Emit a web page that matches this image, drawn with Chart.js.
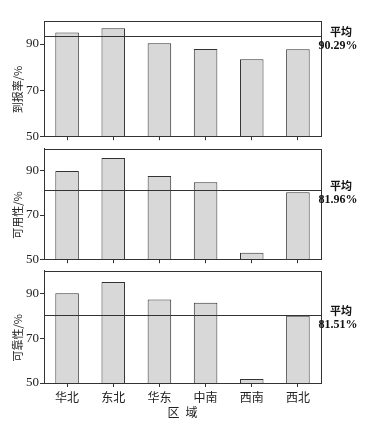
<!DOCTYPE html>
<html>
<head>
<meta charset="utf-8">
<script src="https://cdn.jsdelivr.net/npm/chart.js@4.4.0/dist/chart.umd.min.js"></script>
<style>
    body { margin: 0; background: #fff; }
    #wrap { position: relative; width: 373px; height: 427px; }
    canvas { position: absolute; left: 0; }
</style>
</head>
<body>
<div id="wrap">
    <canvas id="c1"></canvas>
    <canvas id="c2"></canvas>
    <canvas id="c3"></canvas>
</div>
<script>
const regions = ['华北', '东北', '华东', '中南', '西南', '西北'];
const reportRate = [95.0, 96.9, 90.3, 87.9, 83.4, 87.7];
const availability = [90.0, 95.8, 87.7, 84.9, 52.9, 80.3];
const reliability = [90.0, 95.0, 87.2, 85.8, 51.8, 80.0];
const yTicks = [50, 70, 90];
// mean line as drawn in the figure, and the printed label
const meanLines = [93.5, 81.2, 80.3];
const meanLabels = ['90.29%', '81.96%', '81.51%'];
const yTitles = ['到报率/%', '可用性/%', '可靠性/%'];

const serif = '"Liberation Serif", "DejaVu Serif", serif';
const cjk = '"Noto Sans CJK SC", sans-serif';

// canvas placement for each panel
const panels = [
    { id: 'c1', top: 0, height: 145, padTop: 21, xHeight: 8, data: reportRate },
    { id: 'c2', top: 140, height: 128, padTop: 4, xHeight: 8, data: availability },
    { id: 'c3', top: 262, height: 165, padTop: 7, xHeight: 44, data: reliability }
];

const panelDeco = {
    id: 'panelDeco',
    afterDatasetsDraw(chart, args, opts) {
        const { ctx, chartArea: a } = chart;
        const y = chart.scales.y;
        ctx.save();
        ctx.strokeStyle = '#333';
        ctx.lineWidth = 1;
        ctx.strokeRect(Math.round(a.left) + 0.5, Math.round(a.top) + 0.5,
            Math.round(a.right - a.left), Math.round(a.bottom - a.top));
        const my = Math.round(y.getPixelForValue(opts.mean)) + 0.5;
        ctx.beginPath();
        ctx.moveTo(a.left, my);
        ctx.lineTo(a.right, my);
        ctx.stroke();

        ctx.fillStyle = '#111';
        ctx.textAlign = 'center';
        ctx.textBaseline = 'middle';
        ctx.font = 'bold 11px ' + cjk;
        ctx.fillText('平均', 341, my - 5);
        ctx.font = 'bold 12px ' + serif;
        ctx.fillText(opts.label, 338, my + 9);

        // rotated axis title
        ctx.save();
        ctx.translate(18, (a.top + a.bottom) / 2 + 11);
        ctx.rotate(-Math.PI / 2);
        ctx.font = '11px ' + cjk;
        ctx.fillStyle = '#222';
        ctx.fillText(opts.title, 0, 0);
        ctx.restore();
        ctx.restore();
    }
};

panels.forEach((p, i) => {
    const el = document.getElementById(p.id);
    el.width = 373;
    el.height = p.height;
    el.style.top = p.top + 'px';
    const last = i === panels.length - 1;

    new Chart(el.getContext('2d'), {
        type: 'bar',
        data: {
            labels: regions,
            datasets: [{
                data: p.data,
                backgroundColor: '#d8d8d8',
                borderColor: '#333',
                borderWidth: 1,
                categoryPercentage: 0.51,
                barPercentage: 1
            }]
        },
        options: {
            responsive: false,
            animation: false,
            devicePixelRatio: 1,
            layout: { padding: { top: p.padTop, right: 52, left: 0, bottom: 0 } },
            plugins: {
                legend: { display: false },
                tooltip: { enabled: false },
                panelDeco: { mean: meanLines[i], label: meanLabels[i], title: yTitles[i] }
            },
            scales: {
                x: {
                    grid: { drawOnChartArea: false, offset: false, tickLength: 4, color: '#333' },
                    border: { display: true, color: '#333' },
                    ticks: { display: last, color: '#222', padding: 3, font: { family: cjk, size: 12 } },
                    title: {
                        display: last, text: '区\u2002域', color: '#222',
                        font: { family: cjk, size: 12 }, padding: { top: 0, bottom: 7 }
                    },
                    afterFit(scale) { scale.height = p.xHeight; }
                },
                y: {
                    min: 50,
                    max: 100,
                    grid: { drawOnChartArea: false, tickLength: 4, color: '#333' },
                    border: { display: true, color: '#333' },
                    ticks: { color: '#222', padding: 1, font: { family: serif, size: 13 } },
                    afterBuildTicks(scale) { scale.ticks = yTicks.map(v => ({ value: v })); },
                    afterFit(scale) { scale.width = 44; }
                }
            }
        },
        plugins: [panelDeco]
    });
});
</script>
</body>
</html>
